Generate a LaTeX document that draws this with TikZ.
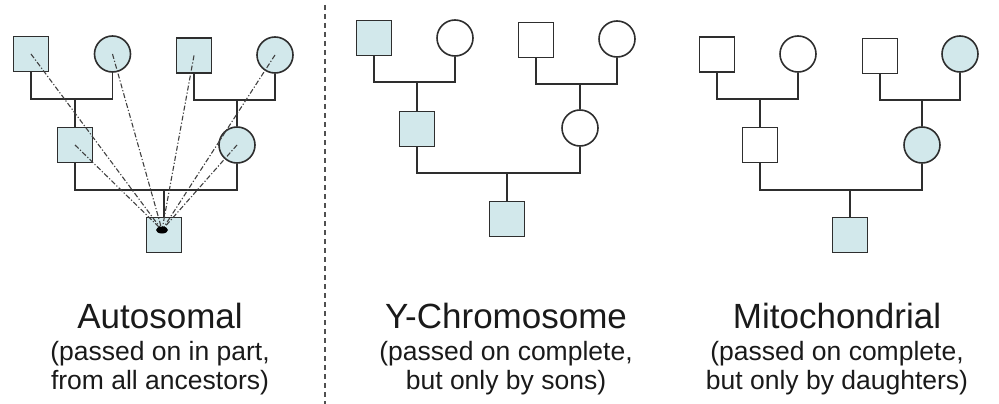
\documentclass[tikz,border=0pt]{standalone}
\usepackage{fontspec}
\setmainfont{Liberation Sans}
\definecolor{linegray}{HTML}{2E2E2E}
\definecolor{carrierblue}{HTML}{D2E8EB}
\definecolor{tracegray}{HTML}{404040}
\definecolor{sepgray}{HTML}{505050}
\definecolor{textblack}{HTML}{1A1A1A}
\begin{document}
\begin{tikzpicture}[x=1pt,y=-1pt,
  person/.style={draw=linegray, line width=1.6pt, inner sep=0pt},
  male/.style={person, rectangle, minimum size=35pt},
  female/.style={person, circle, minimum size=36pt},
  carrier/.style={fill=carrierblue},
  plain/.style={fill=white},
  link/.style={draw=linegray, line width=1.6pt},
  trace/.style={draw=tracegray, line width=1.1pt, dash pattern=on 5pt off 2pt on 1.2pt off 2pt},
  separator/.style={draw=sepgray, line width=1.5pt, dash pattern=on 5pt off 4pt},
  title/.style={anchor=base, inner sep=0pt, text=textblack, font=\fontsize{35}{40}\selectfont},
  note/.style={anchor=base, inner sep=0pt, text=textblack, font=\fontsize{26.5}{32}\selectfont},
]
\useasboundingbox (0,0) rectangle (999,404);

% ---------- Autosomal ----------
\node[male, carrier]   (A1) at (31,54) {};
\node[female, carrier] (A2) at (112.5,54) {};
\node[male, carrier]   (A3) at (194,55.5) {};
\node[female, carrier] (A4) at (275,55) {};
\node[male, carrier]   (A5) at (75,145) {};
\node[female, carrier] (A6) at (237,145) {};
\node[male, carrier]   (A7) at (164,235) {};
\coordinate (am1) at (75,99);
\coordinate (am2) at (237,100);
\coordinate (am3) at (164,190);
\draw[link] (A1.south) |- (am1) -| (A2.south);
\draw[link] (am1) -- (A5.north);
\draw[link] (A3.south) |- (am2) -| (A4.south);
\draw[link] (am2) -- (A6.north);
\draw[link] (A5.south) |- (am3) -| (A6.south);
\draw[link] (am3) -- (A7.north);
% inheritance traces converging on the descendant
\coordinate (hit) at (162,230);
\foreach \src in {A1,A2,A3,A4,A5,A6}
  \draw[trace] (\src.center) -- (hit);
\fill[black] (hit) ellipse (6pt and 3.5pt);

% ---------- separator ----------
\coordinate (sepTop) at (325,5);
\coordinate (sepBot) at (325,404);
\draw[separator] (sepTop) -- (sepBot);

% ---------- Y-Chromosome ----------
\node[male, carrier]   (Y1) at (374,38) {};
\node[female, plain]   (Y2) at (455,38) {};
\node[male, plain]     (Y3) at (536,40) {};
\node[female, plain]   (Y4) at (617,39) {};
\node[male, carrier]   (Y5) at (417,129) {};
\node[female, plain]   (Y6) at (580,128) {};
\node[male, carrier]   (Y7) at (507,219) {};
\coordinate (ym1) at (417,82);
\coordinate (ym2) at (580,84);
\coordinate (ym3) at (507,173);
\draw[link] (Y1.south) |- (ym1) -| (Y2.south);
\draw[link] (ym1) -- (Y5.north);
\draw[link] (Y3.south) |- (ym2) -| (Y4.south);
\draw[link] (ym2) -- (Y6.north);
\draw[link] (Y5.south) |- (ym3) -| (Y6.south);
\draw[link] (ym3) -- (Y7.north);

% ---------- Mitochondrial ----------
\node[male, plain]     (M1) at (717,54.5) {};
\node[female, plain]   (M2) at (798,54) {};
\node[male, plain]     (M3) at (880,56) {};
\node[female, carrier] (M4) at (960,54) {};
\node[male, plain]     (M5) at (760,145) {};
\node[female, carrier] (M6) at (922,145) {};
\node[male, carrier]   (M7) at (850,235) {};
\coordinate (mm1) at (760,99);
\coordinate (mm2) at (922,100);
\coordinate (mm3) at (850,190);
\draw[link] (M1.south) |- (mm1) -| (M2.south);
\draw[link] (mm1) -- (M5.north);
\draw[link] (M3.south) |- (mm2) -| (M4.south);
\draw[link] (mm2) -- (M6.north);
\draw[link] (M5.south) |- (mm3) -| (M6.south);
\draw[link] (mm3) -- (M7.north);

% ---------- captions ----------
\node[title] (tA)  at (160,328) {Autosomal};
\node[note]  (nA1) at (160,360) {(passed on in part,};
\node[note]  (nA2) at (160,389) {from all ancestors)};
\node[title] (tY)  at (506,328) {Y-Chromosome};
\node[note]  (nY1) at (506,360) {(passed on complete,};
\node[note]  (nY2) at (506,389) {but only by sons)};
\node[title] (tM)  at (837,328) {Mitochondrial};
\node[note]  (nM1) at (837,360) {(passed on complete,};
\node[note]  (nM2) at (837,389) {but only by daughters)};
\end{tikzpicture}
\end{document}
